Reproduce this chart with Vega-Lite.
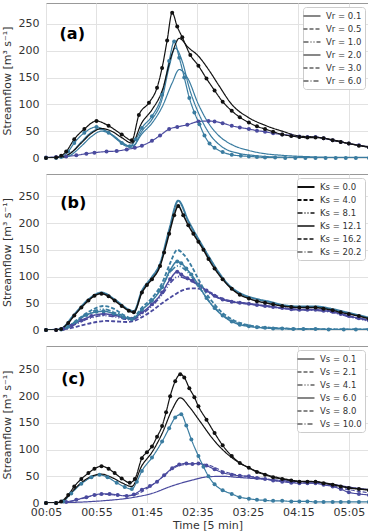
{
"$schema":"https://vega.github.io/schema/vega-lite/v6.json",
"padding":{"left":0,"top":2,"right":0,"bottom":0},
"spacing":16,
"bounds":"flush",
"config":{"font":"DejaVu Sans","view":{"stroke":"#999999"},
"axis":{"gridColor":"#e2e2e2","labelColor":"#333333","titleColor":"#333333","labelFontSize":11,"titleFontSize":11,"titleFontWeight":"normal","domain":false,"ticks":false,"labelOverlap":false},
"legend":{"symbolType":"M-1.7,0H1.7","symbolSize":100,"symbolStrokeColor":"#111111","symbolStrokeWidth":1.5,"labelFontSize":8.5,"labelColor":"#333333","labelOffset":8,"rowPadding":2,"padding":3,"fillColor":"white","strokeColor":"#cccccc","cornerRadius":3,"orient":"top-right","offset":4}},
"datasets":{
"a":[
{"s":"Vr = 2.0","c":"p","t":5,"v":1},{"s":"Vr = 2.0","c":"p","t":15,"v":2},{"s":"Vr = 2.0","c":"p","t":25,"v":3},{"s":"Vr = 2.0","c":"p","t":35,"v":5},{"s":"Vr = 2.0","c":"p","t":45,"v":8},{"s":"Vr = 2.0","c":"p","t":53,"v":10},{"s":"Vr = 2.0","c":"p","t":65,"v":12},{"s":"Vr = 2.0","c":"p","t":75,"v":13},{"s":"Vr = 2.0","c":"p","t":85,"v":16},{"s":"Vr = 2.0","c":"p","t":93,"v":19},{"s":"Vr = 2.0","c":"p","t":100,"v":23},{"s":"Vr = 2.0","c":"p","t":110,"v":32},{"s":"Vr = 2.0","c":"p","t":118,"v":42},{"s":"Vr = 2.0","c":"p","t":127,"v":54},{"s":"Vr = 2.0","c":"p","t":135,"v":58},{"s":"Vr = 2.0","c":"p","t":145,"v":62},{"s":"Vr = 2.0","c":"p","t":156,"v":68},{"s":"Vr = 2.0","c":"p","t":166,"v":69},{"s":"Vr = 2.0","c":"p","t":172,"v":68},{"s":"Vr = 2.0","c":"p","t":180,"v":65},{"s":"Vr = 2.0","c":"p","t":189,"v":60},{"s":"Vr = 2.0","c":"p","t":197,"v":57},{"s":"Vr = 2.0","c":"p","t":206,"v":54},{"s":"Vr = 2.0","c":"p","t":214,"v":51},{"s":"Vr = 2.0","c":"p","t":222,"v":49},{"s":"Vr = 2.0","c":"p","t":230,"v":46},{"s":"Vr = 2.0","c":"p","t":239,"v":44},{"s":"Vr = 2.0","c":"p","t":248,"v":42},{"s":"Vr = 2.0","c":"p","t":256,"v":40},{"s":"Vr = 2.0","c":"p","t":264,"v":39},{"s":"Vr = 2.0","c":"p","t":272,"v":39},{"s":"Vr = 2.0","c":"p","t":280,"v":37},{"s":"Vr = 2.0","c":"p","t":289,"v":33},{"s":"Vr = 2.0","c":"p","t":297,"v":30},{"s":"Vr = 2.0","c":"p","t":305,"v":27},{"s":"Vr = 2.0","c":"p","t":315,"v":24},{"s":"Vr = 2.0","c":"p","t":325,"v":20},
{"s":"Vr = 0.1","c":"t","t":5,"v":0},{"s":"Vr = 0.1","c":"t","t":20,"v":0},{"s":"Vr = 0.1","c":"t","t":30,"v":6},{"s":"Vr = 0.1","c":"t","t":40,"v":22},{"s":"Vr = 0.1","c":"t","t":50,"v":40},{"s":"Vr = 0.1","c":"t","t":60,"v":50},{"s":"Vr = 0.1","c":"t","t":70,"v":44},{"s":"Vr = 0.1","c":"t","t":80,"v":30},{"s":"Vr = 0.1","c":"t","t":90,"v":20},{"s":"Vr = 0.1","c":"t","t":100,"v":45},{"s":"Vr = 0.1","c":"t","t":110,"v":65},{"s":"Vr = 0.1","c":"t","t":120,"v":95},{"s":"Vr = 0.1","c":"t","t":130,"v":140},{"s":"Vr = 0.1","c":"t","t":137,"v":165},{"s":"Vr = 0.1","c":"t","t":145,"v":150},{"s":"Vr = 0.1","c":"t","t":156,"v":100},{"s":"Vr = 0.1","c":"t","t":166,"v":65},{"s":"Vr = 0.1","c":"t","t":176,"v":42},{"s":"Vr = 0.1","c":"t","t":189,"v":25},{"s":"Vr = 0.1","c":"t","t":206,"v":14},{"s":"Vr = 0.1","c":"t","t":222,"v":8},{"s":"Vr = 0.1","c":"t","t":239,"v":5},{"s":"Vr = 0.1","c":"t","t":272,"v":2},{"s":"Vr = 0.1","c":"t","t":300,"v":1},{"s":"Vr = 0.1","c":"t","t":325,"v":1},
{"s":"Vr = 0.1","c":"t","g":2,"t":5,"v":0},{"s":"Vr = 0.1","c":"t","g":2,"t":20,"v":1},{"s":"Vr = 0.1","c":"t","g":2,"t":30,"v":10},{"s":"Vr = 0.1","c":"t","g":2,"t":40,"v":30},{"s":"Vr = 0.1","c":"t","g":2,"t":50,"v":48},{"s":"Vr = 0.1","c":"t","g":2,"t":57,"v":54},{"s":"Vr = 0.1","c":"t","g":2,"t":65,"v":50},{"s":"Vr = 0.1","c":"t","g":2,"t":75,"v":36},{"s":"Vr = 0.1","c":"t","g":2,"t":85,"v":22},{"s":"Vr = 0.1","c":"t","g":2,"t":92,"v":24},{"s":"Vr = 0.1","c":"t","g":2,"t":100,"v":50},{"s":"Vr = 0.1","c":"t","g":2,"t":110,"v":72},{"s":"Vr = 0.1","c":"t","g":2,"t":120,"v":110},{"s":"Vr = 0.1","c":"t","g":2,"t":127,"v":170},{"s":"Vr = 0.1","c":"t","g":2,"t":133,"v":205},{"s":"Vr = 0.1","c":"t","g":2,"t":140,"v":180},{"s":"Vr = 0.1","c":"t","g":2,"t":147,"v":130},{"s":"Vr = 0.1","c":"t","g":2,"t":157,"v":80},{"s":"Vr = 0.1","c":"t","g":2,"t":167,"v":45},{"s":"Vr = 0.1","c":"t","g":2,"t":180,"v":20},{"s":"Vr = 0.1","c":"t","g":2,"t":195,"v":9},{"s":"Vr = 0.1","c":"t","g":2,"t":210,"v":5},{"s":"Vr = 0.1","c":"t","g":2,"t":230,"v":2},{"s":"Vr = 0.1","c":"t","g":2,"t":260,"v":1},{"s":"Vr = 0.1","c":"t","g":2,"t":325,"v":0},
{"s":"Vr = 2.0","c":"t","t":5,"v":0},{"s":"Vr = 2.0","c":"t","t":15,"v":0},{"s":"Vr = 2.0","c":"t","t":20,"v":2},{"s":"Vr = 2.0","c":"t","t":27,"v":12},{"s":"Vr = 2.0","c":"t","t":33,"v":28},{"s":"Vr = 2.0","c":"t","t":43,"v":47},{"s":"Vr = 2.0","c":"t","t":55,"v":58},{"s":"Vr = 2.0","c":"t","t":67,"v":47},{"s":"Vr = 2.0","c":"t","t":80,"v":28},{"s":"Vr = 2.0","c":"t","t":88,"v":22},{"s":"Vr = 2.0","c":"t","t":94,"v":35},{"s":"Vr = 2.0","c":"t","t":100,"v":56},{"s":"Vr = 2.0","c":"t","t":110,"v":78},{"s":"Vr = 2.0","c":"t","t":120,"v":118},{"s":"Vr = 2.0","c":"t","t":127,"v":181},{"s":"Vr = 2.0","c":"t","t":132,"v":217},{"s":"Vr = 2.0","c":"t","t":137,"v":187},{"s":"Vr = 2.0","c":"t","t":142,"v":150},{"s":"Vr = 2.0","c":"t","t":147,"v":112},{"s":"Vr = 2.0","c":"t","t":152,"v":85},{"s":"Vr = 2.0","c":"t","t":157,"v":63},{"s":"Vr = 2.0","c":"t","t":162,"v":42},{"s":"Vr = 2.0","c":"t","t":167,"v":27},{"s":"Vr = 2.0","c":"t","t":172,"v":19},{"s":"Vr = 2.0","c":"t","t":180,"v":11},{"s":"Vr = 2.0","c":"t","t":189,"v":6},{"s":"Vr = 2.0","c":"t","t":198,"v":4},{"s":"Vr = 2.0","c":"t","t":206,"v":3},{"s":"Vr = 2.0","c":"t","t":214,"v":2},{"s":"Vr = 2.0","c":"t","t":222,"v":1},{"s":"Vr = 2.0","c":"t","t":232,"v":1},{"s":"Vr = 2.0","c":"t","t":242,"v":0},{"s":"Vr = 2.0","c":"t","t":252,"v":0},{"s":"Vr = 2.0","c":"t","t":262,"v":0},{"s":"Vr = 2.0","c":"t","t":272,"v":0},{"s":"Vr = 2.0","c":"t","t":282,"v":0},{"s":"Vr = 2.0","c":"t","t":292,"v":0},{"s":"Vr = 2.0","c":"t","t":302,"v":0},{"s":"Vr = 2.0","c":"t","t":312,"v":0},{"s":"Vr = 2.0","c":"t","t":325,"v":0},
{"s":"Vr = 0.1","c":"k","t":5,"v":0},{"s":"Vr = 0.1","c":"k","t":15,"v":0},{"s":"Vr = 0.1","c":"k","t":22,"v":2},{"s":"Vr = 0.1","c":"k","t":30,"v":10},{"s":"Vr = 0.1","c":"k","t":40,"v":28},{"s":"Vr = 0.1","c":"k","t":50,"v":46},{"s":"Vr = 0.1","c":"k","t":60,"v":55},{"s":"Vr = 0.1","c":"k","t":70,"v":50},{"s":"Vr = 0.1","c":"k","t":80,"v":38},{"s":"Vr = 0.1","c":"k","t":90,"v":28},{"s":"Vr = 0.1","c":"k","t":100,"v":66},{"s":"Vr = 0.1","c":"k","t":110,"v":90},{"s":"Vr = 0.1","c":"k","t":120,"v":125},{"s":"Vr = 0.1","c":"k","t":130,"v":195},{"s":"Vr = 0.1","c":"k","t":137,"v":223},{"s":"Vr = 0.1","c":"k","t":146,"v":206},{"s":"Vr = 0.1","c":"k","t":156,"v":190},{"s":"Vr = 0.1","c":"k","t":166,"v":165},{"s":"Vr = 0.1","c":"k","t":176,"v":136},{"s":"Vr = 0.1","c":"k","t":189,"v":100},{"s":"Vr = 0.1","c":"k","t":206,"v":75},{"s":"Vr = 0.1","c":"k","t":222,"v":61},{"s":"Vr = 0.1","c":"k","t":239,"v":50},{"s":"Vr = 0.1","c":"k","t":256,"v":41},{"s":"Vr = 0.1","c":"k","t":272,"v":39},{"s":"Vr = 0.1","c":"k","t":289,"v":34},{"s":"Vr = 0.1","c":"k","t":305,"v":27},{"s":"Vr = 0.1","c":"k","t":325,"v":21},
{"s":"Vr = 2.0","c":"k","t":5,"v":0},{"s":"Vr = 2.0","c":"k","t":15,"v":1},{"s":"Vr = 2.0","c":"k","t":20,"v":4},{"s":"Vr = 2.0","c":"k","t":25,"v":12},{"s":"Vr = 2.0","c":"k","t":33,"v":35},{"s":"Vr = 2.0","c":"k","t":43,"v":54},{"s":"Vr = 2.0","c":"k","t":55,"v":69},{"s":"Vr = 2.0","c":"k","t":67,"v":60},{"s":"Vr = 2.0","c":"k","t":80,"v":44},{"s":"Vr = 2.0","c":"k","t":90,"v":33},{"s":"Vr = 2.0","c":"k","t":97,"v":80},{"s":"Vr = 2.0","c":"k","t":107,"v":103},{"s":"Vr = 2.0","c":"k","t":115,"v":131},{"s":"Vr = 2.0","c":"k","t":120,"v":168},{"s":"Vr = 2.0","c":"k","t":125,"v":219},{"s":"Vr = 2.0","c":"k","t":130,"v":271},{"s":"Vr = 2.0","c":"k","t":135,"v":245},{"s":"Vr = 2.0","c":"k","t":140,"v":225},{"s":"Vr = 2.0","c":"k","t":148,"v":192},{"s":"Vr = 2.0","c":"k","t":156,"v":172},{"s":"Vr = 2.0","c":"k","t":164,"v":148},{"s":"Vr = 2.0","c":"k","t":172,"v":126},{"s":"Vr = 2.0","c":"k","t":180,"v":105},{"s":"Vr = 2.0","c":"k","t":189,"v":88},{"s":"Vr = 2.0","c":"k","t":197,"v":76},{"s":"Vr = 2.0","c":"k","t":206,"v":66},{"s":"Vr = 2.0","c":"k","t":214,"v":59},{"s":"Vr = 2.0","c":"k","t":222,"v":54},{"s":"Vr = 2.0","c":"k","t":230,"v":49},{"s":"Vr = 2.0","c":"k","t":239,"v":44},{"s":"Vr = 2.0","c":"k","t":248,"v":41},{"s":"Vr = 2.0","c":"k","t":256,"v":39},{"s":"Vr = 2.0","c":"k","t":264,"v":38},{"s":"Vr = 2.0","c":"k","t":272,"v":38},{"s":"Vr = 2.0","c":"k","t":280,"v":37},{"s":"Vr = 2.0","c":"k","t":289,"v":33},{"s":"Vr = 2.0","c":"k","t":297,"v":30},{"s":"Vr = 2.0","c":"k","t":305,"v":27},{"s":"Vr = 2.0","c":"k","t":315,"v":23},{"s":"Vr = 2.0","c":"k","t":325,"v":20}
],
"b":[
{"s":"Ks = 12.1","c":"p","t":5,"v":0},{"s":"Ks = 12.1","c":"p","t":15,"v":0},{"s":"Ks = 12.1","c":"p","t":22,"v":2},{"s":"Ks = 12.1","c":"p","t":30,"v":8},{"s":"Ks = 12.1","c":"p","t":40,"v":18},{"s":"Ks = 12.1","c":"p","t":50,"v":26},{"s":"Ks = 12.1","c":"p","t":62,"v":30},{"s":"Ks = 12.1","c":"p","t":72,"v":28},{"s":"Ks = 12.1","c":"p","t":82,"v":23},{"s":"Ks = 12.1","c":"p","t":90,"v":21},{"s":"Ks = 12.1","c":"p","t":100,"v":33},{"s":"Ks = 12.1","c":"p","t":110,"v":48},{"s":"Ks = 12.1","c":"p","t":120,"v":70},{"s":"Ks = 12.1","c":"p","t":128,"v":95},{"s":"Ks = 12.1","c":"p","t":135,"v":109},{"s":"Ks = 12.1","c":"p","t":139,"v":104},{"s":"Ks = 12.1","c":"p","t":145,"v":97},{"s":"Ks = 12.1","c":"p","t":150,"v":92},{"s":"Ks = 12.1","c":"p","t":156,"v":85},{"s":"Ks = 12.1","c":"p","t":164,"v":74},{"s":"Ks = 12.1","c":"p","t":172,"v":64},{"s":"Ks = 12.1","c":"p","t":180,"v":57},{"s":"Ks = 12.1","c":"p","t":189,"v":53},{"s":"Ks = 12.1","c":"p","t":197,"v":51},{"s":"Ks = 12.1","c":"p","t":206,"v":49},{"s":"Ks = 12.1","c":"p","t":214,"v":47},{"s":"Ks = 12.1","c":"p","t":222,"v":45},{"s":"Ks = 12.1","c":"p","t":230,"v":43},{"s":"Ks = 12.1","c":"p","t":239,"v":41},{"s":"Ks = 12.1","c":"p","t":248,"v":39},{"s":"Ks = 12.1","c":"p","t":256,"v":38},{"s":"Ks = 12.1","c":"p","t":264,"v":38},{"s":"Ks = 12.1","c":"p","t":272,"v":38},{"s":"Ks = 12.1","c":"p","t":280,"v":36},{"s":"Ks = 12.1","c":"p","t":289,"v":34},{"s":"Ks = 12.1","c":"p","t":297,"v":30},{"s":"Ks = 12.1","c":"p","t":305,"v":26},{"s":"Ks = 12.1","c":"p","t":315,"v":22},{"s":"Ks = 12.1","c":"p","t":325,"v":18},
{"s":"Ks = 8.1","c":"p","t":5,"v":0},{"s":"Ks = 8.1","c":"p","t":20,"v":1},{"s":"Ks = 8.1","c":"p","t":30,"v":7},{"s":"Ks = 8.1","c":"p","t":40,"v":16},{"s":"Ks = 8.1","c":"p","t":50,"v":23},{"s":"Ks = 8.1","c":"p","t":62,"v":27},{"s":"Ks = 8.1","c":"p","t":72,"v":25},{"s":"Ks = 8.1","c":"p","t":82,"v":21},{"s":"Ks = 8.1","c":"p","t":90,"v":19},{"s":"Ks = 8.1","c":"p","t":100,"v":30},{"s":"Ks = 8.1","c":"p","t":110,"v":45},{"s":"Ks = 8.1","c":"p","t":120,"v":66},{"s":"Ks = 8.1","c":"p","t":128,"v":88},{"s":"Ks = 8.1","c":"p","t":136,"v":100},{"s":"Ks = 8.1","c":"p","t":145,"v":95},{"s":"Ks = 8.1","c":"p","t":156,"v":84},{"s":"Ks = 8.1","c":"p","t":166,"v":70},{"s":"Ks = 8.1","c":"p","t":176,"v":60},{"s":"Ks = 8.1","c":"p","t":189,"v":54},{"s":"Ks = 8.1","c":"p","t":206,"v":49},{"s":"Ks = 8.1","c":"p","t":222,"v":45},{"s":"Ks = 8.1","c":"p","t":239,"v":41},{"s":"Ks = 8.1","c":"p","t":256,"v":38},{"s":"Ks = 8.1","c":"p","t":272,"v":37},{"s":"Ks = 8.1","c":"p","t":289,"v":33},{"s":"Ks = 8.1","c":"p","t":305,"v":25},{"s":"Ks = 8.1","c":"p","t":325,"v":17},
{"s":"Ks = 4.0","c":"p","t":5,"v":0},{"s":"Ks = 4.0","c":"p","t":25,"v":2},{"s":"Ks = 4.0","c":"p","t":35,"v":6},{"s":"Ks = 4.0","c":"p","t":45,"v":11},{"s":"Ks = 4.0","c":"p","t":55,"v":15},{"s":"Ks = 4.0","c":"p","t":65,"v":17},{"s":"Ks = 4.0","c":"p","t":75,"v":16},{"s":"Ks = 4.0","c":"p","t":85,"v":15},{"s":"Ks = 4.0","c":"p","t":92,"v":17},{"s":"Ks = 4.0","c":"p","t":100,"v":24},{"s":"Ks = 4.0","c":"p","t":110,"v":36},{"s":"Ks = 4.0","c":"p","t":120,"v":50},{"s":"Ks = 4.0","c":"p","t":130,"v":63},{"s":"Ks = 4.0","c":"p","t":140,"v":74},{"s":"Ks = 4.0","c":"p","t":150,"v":78},{"s":"Ks = 4.0","c":"p","t":160,"v":77},{"s":"Ks = 4.0","c":"p","t":168,"v":70},{"s":"Ks = 4.0","c":"p","t":178,"v":60},{"s":"Ks = 4.0","c":"p","t":189,"v":53},{"s":"Ks = 4.0","c":"p","t":206,"v":49},{"s":"Ks = 4.0","c":"p","t":222,"v":45},{"s":"Ks = 4.0","c":"p","t":239,"v":41},{"s":"Ks = 4.0","c":"p","t":256,"v":38},{"s":"Ks = 4.0","c":"p","t":272,"v":38},{"s":"Ks = 4.0","c":"p","t":289,"v":34},{"s":"Ks = 4.0","c":"p","t":305,"v":26},{"s":"Ks = 4.0","c":"p","t":325,"v":18},
{"s":"Ks = 12.1","c":"t","t":5,"v":0},{"s":"Ks = 12.1","c":"t","t":20,"v":1},{"s":"Ks = 12.1","c":"t","t":27,"v":6},{"s":"Ks = 12.1","c":"t","t":35,"v":16},{"s":"Ks = 12.1","c":"t","t":45,"v":28},{"s":"Ks = 12.1","c":"t","t":55,"v":34},{"s":"Ks = 12.1","c":"t","t":62,"v":35},{"s":"Ks = 12.1","c":"t","t":72,"v":31},{"s":"Ks = 12.1","c":"t","t":82,"v":24},{"s":"Ks = 12.1","c":"t","t":90,"v":20},{"s":"Ks = 12.1","c":"t","t":100,"v":38},{"s":"Ks = 12.1","c":"t","t":110,"v":55},{"s":"Ks = 12.1","c":"t","t":120,"v":80},{"s":"Ks = 12.1","c":"t","t":128,"v":112},{"s":"Ks = 12.1","c":"t","t":135,"v":128},{"s":"Ks = 12.1","c":"t","t":139,"v":125},{"s":"Ks = 12.1","c":"t","t":144,"v":115},{"s":"Ks = 12.1","c":"t","t":149,"v":104},{"s":"Ks = 12.1","c":"t","t":156,"v":84},{"s":"Ks = 12.1","c":"t","t":164,"v":60},{"s":"Ks = 12.1","c":"t","t":172,"v":41},{"s":"Ks = 12.1","c":"t","t":180,"v":27},{"s":"Ks = 12.1","c":"t","t":189,"v":16},{"s":"Ks = 12.1","c":"t","t":197,"v":10},{"s":"Ks = 12.1","c":"t","t":206,"v":7},{"s":"Ks = 12.1","c":"t","t":214,"v":5},{"s":"Ks = 12.1","c":"t","t":222,"v":4},{"s":"Ks = 12.1","c":"t","t":230,"v":3},{"s":"Ks = 12.1","c":"t","t":239,"v":3},{"s":"Ks = 12.1","c":"t","t":250,"v":2},{"s":"Ks = 12.1","c":"t","t":260,"v":2},{"s":"Ks = 12.1","c":"t","t":272,"v":2},{"s":"Ks = 12.1","c":"t","t":285,"v":1},{"s":"Ks = 12.1","c":"t","t":300,"v":1},{"s":"Ks = 12.1","c":"t","t":312,"v":1},{"s":"Ks = 12.1","c":"t","t":325,"v":1},
{"s":"Ks = 8.1","c":"t","t":5,"v":0},{"s":"Ks = 8.1","c":"t","t":20,"v":1},{"s":"Ks = 8.1","c":"t","t":30,"v":10},{"s":"Ks = 8.1","c":"t","t":40,"v":24},{"s":"Ks = 8.1","c":"t","t":50,"v":34},{"s":"Ks = 8.1","c":"t","t":62,"v":39},{"s":"Ks = 8.1","c":"t","t":72,"v":34},{"s":"Ks = 8.1","c":"t","t":82,"v":26},{"s":"Ks = 8.1","c":"t","t":90,"v":21},{"s":"Ks = 8.1","c":"t","t":100,"v":38},{"s":"Ks = 8.1","c":"t","t":110,"v":56},{"s":"Ks = 8.1","c":"t","t":120,"v":82},{"s":"Ks = 8.1","c":"t","t":128,"v":108},{"s":"Ks = 8.1","c":"t","t":136,"v":120},{"s":"Ks = 8.1","c":"t","t":142,"v":114},{"s":"Ks = 8.1","c":"t","t":149,"v":100},{"s":"Ks = 8.1","c":"t","t":156,"v":82},{"s":"Ks = 8.1","c":"t","t":164,"v":60},{"s":"Ks = 8.1","c":"t","t":172,"v":42},{"s":"Ks = 8.1","c":"t","t":180,"v":28},{"s":"Ks = 8.1","c":"t","t":189,"v":17},{"s":"Ks = 8.1","c":"t","t":206,"v":8},{"s":"Ks = 8.1","c":"t","t":222,"v":4},{"s":"Ks = 8.1","c":"t","t":250,"v":2},{"s":"Ks = 8.1","c":"t","t":325,"v":1},
{"s":"Ks = 4.0","c":"t","t":5,"v":0},{"s":"Ks = 4.0","c":"t","t":20,"v":1},{"s":"Ks = 4.0","c":"t","t":30,"v":10},{"s":"Ks = 4.0","c":"t","t":40,"v":25},{"s":"Ks = 4.0","c":"t","t":50,"v":37},{"s":"Ks = 4.0","c":"t","t":62,"v":45},{"s":"Ks = 4.0","c":"t","t":72,"v":40},{"s":"Ks = 4.0","c":"t","t":82,"v":28},{"s":"Ks = 4.0","c":"t","t":90,"v":22},{"s":"Ks = 4.0","c":"t","t":100,"v":42},{"s":"Ks = 4.0","c":"t","t":110,"v":60},{"s":"Ks = 4.0","c":"t","t":120,"v":88},{"s":"Ks = 4.0","c":"t","t":128,"v":125},{"s":"Ks = 4.0","c":"t","t":135,"v":150},{"s":"Ks = 4.0","c":"t","t":142,"v":140},{"s":"Ks = 4.0","c":"t","t":149,"v":120},{"s":"Ks = 4.0","c":"t","t":156,"v":95},{"s":"Ks = 4.0","c":"t","t":164,"v":68},{"s":"Ks = 4.0","c":"t","t":172,"v":48},{"s":"Ks = 4.0","c":"t","t":180,"v":32},{"s":"Ks = 4.0","c":"t","t":189,"v":20},{"s":"Ks = 4.0","c":"t","t":206,"v":9},{"s":"Ks = 4.0","c":"t","t":222,"v":5},{"s":"Ks = 4.0","c":"t","t":260,"v":2},{"s":"Ks = 4.0","c":"t","t":325,"v":1},
{"s":"Ks = 0.0","c":"t","t":5,"v":0},{"s":"Ks = 0.0","c":"t","t":15,"v":0},{"s":"Ks = 0.0","c":"t","t":20,"v":2},{"s":"Ks = 0.0","c":"t","t":33,"v":29},{"s":"Ks = 0.0","c":"t","t":47,"v":57},{"s":"Ks = 0.0","c":"t","t":60,"v":70},{"s":"Ks = 0.0","c":"t","t":73,"v":57},{"s":"Ks = 0.0","c":"t","t":87,"v":38},{"s":"Ks = 0.0","c":"t","t":92,"v":35},{"s":"Ks = 0.0","c":"t","t":100,"v":73},{"s":"Ks = 0.0","c":"t","t":110,"v":99},{"s":"Ks = 0.0","c":"t","t":118,"v":124},{"s":"Ks = 0.0","c":"t","t":127,"v":187},{"s":"Ks = 0.0","c":"t","t":136,"v":242},{"s":"Ks = 0.0","c":"t","t":146,"v":204},{"s":"Ks = 0.0","c":"t","t":156,"v":170},{"s":"Ks = 0.0","c":"t","t":166,"v":138},{"s":"Ks = 0.0","c":"t","t":176,"v":108},{"s":"Ks = 0.0","c":"t","t":186,"v":84},{"s":"Ks = 0.0","c":"t","t":196,"v":70},{"s":"Ks = 0.0","c":"t","t":206,"v":62},{"s":"Ks = 0.0","c":"t","t":216,"v":57},{"s":"Ks = 0.0","c":"t","t":226,"v":53},{"s":"Ks = 0.0","c":"t","t":239,"v":47},{"s":"Ks = 0.0","c":"t","t":256,"v":44},{"s":"Ks = 0.0","c":"t","t":272,"v":44},{"s":"Ks = 0.0","c":"t","t":289,"v":39},{"s":"Ks = 0.0","c":"t","t":305,"v":32},{"s":"Ks = 0.0","c":"t","t":325,"v":23},
{"s":"Ks = 12.1","c":"k","t":5,"v":0},{"s":"Ks = 12.1","c":"k","t":15,"v":0},{"s":"Ks = 12.1","c":"k","t":20,"v":2},{"s":"Ks = 12.1","c":"k","t":27,"v":13},{"s":"Ks = 12.1","c":"k","t":33,"v":27},{"s":"Ks = 12.1","c":"k","t":40,"v":42},{"s":"Ks = 12.1","c":"k","t":47,"v":55},{"s":"Ks = 12.1","c":"k","t":53,"v":64},{"s":"Ks = 12.1","c":"k","t":60,"v":68},{"s":"Ks = 12.1","c":"k","t":67,"v":63},{"s":"Ks = 12.1","c":"k","t":73,"v":55},{"s":"Ks = 12.1","c":"k","t":80,"v":45},{"s":"Ks = 12.1","c":"k","t":87,"v":36},{"s":"Ks = 12.1","c":"k","t":92,"v":33},{"s":"Ks = 12.1","c":"k","t":100,"v":70},{"s":"Ks = 12.1","c":"k","t":105,"v":84},{"s":"Ks = 12.1","c":"k","t":110,"v":95},{"s":"Ks = 12.1","c":"k","t":118,"v":120},{"s":"Ks = 12.1","c":"k","t":122,"v":145},{"s":"Ks = 12.1","c":"k","t":127,"v":180},{"s":"Ks = 12.1","c":"k","t":132,"v":215},{"s":"Ks = 12.1","c":"k","t":136,"v":232},{"s":"Ks = 12.1","c":"k","t":141,"v":215},{"s":"Ks = 12.1","c":"k","t":146,"v":196},{"s":"Ks = 12.1","c":"k","t":151,"v":180},{"s":"Ks = 12.1","c":"k","t":156,"v":165},{"s":"Ks = 12.1","c":"k","t":161,"v":150},{"s":"Ks = 12.1","c":"k","t":166,"v":133},{"s":"Ks = 12.1","c":"k","t":172,"v":115},{"s":"Ks = 12.1","c":"k","t":180,"v":95},{"s":"Ks = 12.1","c":"k","t":189,"v":77},{"s":"Ks = 12.1","c":"k","t":197,"v":66},{"s":"Ks = 12.1","c":"k","t":206,"v":59},{"s":"Ks = 12.1","c":"k","t":214,"v":54},{"s":"Ks = 12.1","c":"k","t":222,"v":51},{"s":"Ks = 12.1","c":"k","t":230,"v":48},{"s":"Ks = 12.1","c":"k","t":239,"v":45},{"s":"Ks = 12.1","c":"k","t":248,"v":43},{"s":"Ks = 12.1","c":"k","t":256,"v":42},{"s":"Ks = 12.1","c":"k","t":264,"v":42},{"s":"Ks = 12.1","c":"k","t":272,"v":42},{"s":"Ks = 12.1","c":"k","t":280,"v":40},{"s":"Ks = 12.1","c":"k","t":289,"v":37},{"s":"Ks = 12.1","c":"k","t":297,"v":33},{"s":"Ks = 12.1","c":"k","t":305,"v":30},{"s":"Ks = 12.1","c":"k","t":315,"v":26},{"s":"Ks = 12.1","c":"k","t":325,"v":21}
],
"c":[
{"s":"Vs = 0.1","c":"p","t":5,"v":0},{"s":"Vs = 0.1","c":"p","t":30,"v":1},{"s":"Vs = 0.1","c":"p","t":60,"v":4},{"s":"Vs = 0.1","c":"p","t":90,"v":10},{"s":"Vs = 0.1","c":"p","t":110,"v":18},{"s":"Vs = 0.1","c":"p","t":130,"v":32},{"s":"Vs = 0.1","c":"p","t":150,"v":43},{"s":"Vs = 0.1","c":"p","t":165,"v":49},{"s":"Vs = 0.1","c":"p","t":180,"v":50},{"s":"Vs = 0.1","c":"p","t":195,"v":48},{"s":"Vs = 0.1","c":"p","t":210,"v":46},{"s":"Vs = 0.1","c":"p","t":225,"v":44},{"s":"Vs = 0.1","c":"p","t":240,"v":42},{"s":"Vs = 0.1","c":"p","t":256,"v":40},{"s":"Vs = 0.1","c":"p","t":272,"v":39},{"s":"Vs = 0.1","c":"p","t":289,"v":35},{"s":"Vs = 0.1","c":"p","t":305,"v":30},{"s":"Vs = 0.1","c":"p","t":325,"v":25},
{"s":"Vs = 2.1","c":"p","t":5,"v":0},{"s":"Vs = 2.1","c":"p","t":25,"v":2},{"s":"Vs = 2.1","c":"p","t":40,"v":8},{"s":"Vs = 2.1","c":"p","t":55,"v":15},{"s":"Vs = 2.1","c":"p","t":65,"v":16},{"s":"Vs = 2.1","c":"p","t":80,"v":14},{"s":"Vs = 2.1","c":"p","t":92,"v":15},{"s":"Vs = 2.1","c":"p","t":105,"v":27},{"s":"Vs = 2.1","c":"p","t":120,"v":48},{"s":"Vs = 2.1","c":"p","t":132,"v":66},{"s":"Vs = 2.1","c":"p","t":142,"v":72},{"s":"Vs = 2.1","c":"p","t":156,"v":74},{"s":"Vs = 2.1","c":"p","t":166,"v":71},{"s":"Vs = 2.1","c":"p","t":180,"v":60},{"s":"Vs = 2.1","c":"p","t":195,"v":52},{"s":"Vs = 2.1","c":"p","t":210,"v":49},{"s":"Vs = 2.1","c":"p","t":230,"v":43},{"s":"Vs = 2.1","c":"p","t":256,"v":38},{"s":"Vs = 2.1","c":"p","t":272,"v":37},{"s":"Vs = 2.1","c":"p","t":289,"v":32},{"s":"Vs = 2.1","c":"p","t":305,"v":25},{"s":"Vs = 2.1","c":"p","t":325,"v":19},
{"s":"Vs = 6.0","c":"p","t":5,"v":0},{"s":"Vs = 6.0","c":"p","t":15,"v":0},{"s":"Vs = 6.0","c":"p","t":25,"v":2},{"s":"Vs = 6.0","c":"p","t":35,"v":6},{"s":"Vs = 6.0","c":"p","t":45,"v":11},{"s":"Vs = 6.0","c":"p","t":53,"v":15},{"s":"Vs = 6.0","c":"p","t":60,"v":17},{"s":"Vs = 6.0","c":"p","t":68,"v":17},{"s":"Vs = 6.0","c":"p","t":76,"v":15},{"s":"Vs = 6.0","c":"p","t":85,"v":13},{"s":"Vs = 6.0","c":"p","t":92,"v":16},{"s":"Vs = 6.0","c":"p","t":100,"v":25},{"s":"Vs = 6.0","c":"p","t":108,"v":32},{"s":"Vs = 6.0","c":"p","t":115,"v":40},{"s":"Vs = 6.0","c":"p","t":122,"v":52},{"s":"Vs = 6.0","c":"p","t":130,"v":65},{"s":"Vs = 6.0","c":"p","t":137,"v":72},{"s":"Vs = 6.0","c":"p","t":144,"v":74},{"s":"Vs = 6.0","c":"p","t":150,"v":73},{"s":"Vs = 6.0","c":"p","t":156,"v":74},{"s":"Vs = 6.0","c":"p","t":164,"v":70},{"s":"Vs = 6.0","c":"p","t":172,"v":63},{"s":"Vs = 6.0","c":"p","t":180,"v":57},{"s":"Vs = 6.0","c":"p","t":189,"v":53},{"s":"Vs = 6.0","c":"p","t":197,"v":51},{"s":"Vs = 6.0","c":"p","t":206,"v":50},{"s":"Vs = 6.0","c":"p","t":214,"v":47},{"s":"Vs = 6.0","c":"p","t":222,"v":45},{"s":"Vs = 6.0","c":"p","t":230,"v":42},{"s":"Vs = 6.0","c":"p","t":239,"v":40},{"s":"Vs = 6.0","c":"p","t":248,"v":38},{"s":"Vs = 6.0","c":"p","t":256,"v":37},{"s":"Vs = 6.0","c":"p","t":264,"v":37},{"s":"Vs = 6.0","c":"p","t":272,"v":37},{"s":"Vs = 6.0","c":"p","t":280,"v":34},{"s":"Vs = 6.0","c":"p","t":289,"v":31},{"s":"Vs = 6.0","c":"p","t":297,"v":26},{"s":"Vs = 6.0","c":"p","t":305,"v":20},{"s":"Vs = 6.0","c":"p","t":315,"v":17},{"s":"Vs = 6.0","c":"p","t":325,"v":15},
{"s":"Vs = 6.0","c":"t","t":5,"v":0},{"s":"Vs = 6.0","c":"t","t":15,"v":0},{"s":"Vs = 6.0","c":"t","t":22,"v":3},{"s":"Vs = 6.0","c":"t","t":30,"v":18},{"s":"Vs = 6.0","c":"t","t":40,"v":36},{"s":"Vs = 6.0","c":"t","t":50,"v":48},{"s":"Vs = 6.0","c":"t","t":58,"v":53},{"s":"Vs = 6.0","c":"t","t":66,"v":48},{"s":"Vs = 6.0","c":"t","t":75,"v":38},{"s":"Vs = 6.0","c":"t","t":83,"v":30},{"s":"Vs = 6.0","c":"t","t":90,"v":26},{"s":"Vs = 6.0","c":"t","t":95,"v":40},{"s":"Vs = 6.0","c":"t","t":100,"v":60},{"s":"Vs = 6.0","c":"t","t":110,"v":85},{"s":"Vs = 6.0","c":"t","t":120,"v":115},{"s":"Vs = 6.0","c":"t","t":127,"v":140},{"s":"Vs = 6.0","c":"t","t":133,"v":160},{"s":"Vs = 6.0","c":"t","t":139,"v":166},{"s":"Vs = 6.0","c":"t","t":144,"v":145},{"s":"Vs = 6.0","c":"t","t":149,"v":119},{"s":"Vs = 6.0","c":"t","t":156,"v":88},{"s":"Vs = 6.0","c":"t","t":161,"v":68},{"s":"Vs = 6.0","c":"t","t":166,"v":50},{"s":"Vs = 6.0","c":"t","t":172,"v":35},{"s":"Vs = 6.0","c":"t","t":180,"v":24},{"s":"Vs = 6.0","c":"t","t":189,"v":17},{"s":"Vs = 6.0","c":"t","t":197,"v":11},{"s":"Vs = 6.0","c":"t","t":206,"v":8},{"s":"Vs = 6.0","c":"t","t":214,"v":6},{"s":"Vs = 6.0","c":"t","t":222,"v":5},{"s":"Vs = 6.0","c":"t","t":230,"v":4},{"s":"Vs = 6.0","c":"t","t":239,"v":4},{"s":"Vs = 6.0","c":"t","t":248,"v":3},{"s":"Vs = 6.0","c":"t","t":256,"v":3},{"s":"Vs = 6.0","c":"t","t":264,"v":3},{"s":"Vs = 6.0","c":"t","t":272,"v":2},{"s":"Vs = 6.0","c":"t","t":280,"v":2},{"s":"Vs = 6.0","c":"t","t":289,"v":2},{"s":"Vs = 6.0","c":"t","t":297,"v":2},{"s":"Vs = 6.0","c":"t","t":305,"v":2},{"s":"Vs = 6.0","c":"t","t":315,"v":2},{"s":"Vs = 6.0","c":"t","t":325,"v":2},
{"s":"Vs = 0.1","c":"k","t":5,"v":0},{"s":"Vs = 0.1","c":"k","t":20,"v":2},{"s":"Vs = 0.1","c":"k","t":30,"v":20},{"s":"Vs = 0.1","c":"k","t":40,"v":38},{"s":"Vs = 0.1","c":"k","t":50,"v":50},{"s":"Vs = 0.1","c":"k","t":60,"v":54},{"s":"Vs = 0.1","c":"k","t":70,"v":48},{"s":"Vs = 0.1","c":"k","t":80,"v":38},{"s":"Vs = 0.1","c":"k","t":90,"v":31},{"s":"Vs = 0.1","c":"k","t":100,"v":70},{"s":"Vs = 0.1","c":"k","t":110,"v":95},{"s":"Vs = 0.1","c":"k","t":120,"v":130},{"s":"Vs = 0.1","c":"k","t":130,"v":175},{"s":"Vs = 0.1","c":"k","t":138,"v":197},{"s":"Vs = 0.1","c":"k","t":147,"v":180},{"s":"Vs = 0.1","c":"k","t":156,"v":157},{"s":"Vs = 0.1","c":"k","t":172,"v":116},{"s":"Vs = 0.1","c":"k","t":189,"v":85},{"s":"Vs = 0.1","c":"k","t":206,"v":66},{"s":"Vs = 0.1","c":"k","t":222,"v":54},{"s":"Vs = 0.1","c":"k","t":239,"v":46},{"s":"Vs = 0.1","c":"k","t":256,"v":41},{"s":"Vs = 0.1","c":"k","t":272,"v":40},{"s":"Vs = 0.1","c":"k","t":289,"v":35},{"s":"Vs = 0.1","c":"k","t":305,"v":29},{"s":"Vs = 0.1","c":"k","t":325,"v":25},
{"s":"Vs = 6.0","c":"k","t":5,"v":0},{"s":"Vs = 6.0","c":"k","t":15,"v":0},{"s":"Vs = 6.0","c":"k","t":20,"v":3},{"s":"Vs = 6.0","c":"k","t":27,"v":15},{"s":"Vs = 6.0","c":"k","t":33,"v":31},{"s":"Vs = 6.0","c":"k","t":40,"v":45},{"s":"Vs = 6.0","c":"k","t":47,"v":56},{"s":"Vs = 6.0","c":"k","t":53,"v":64},{"s":"Vs = 6.0","c":"k","t":60,"v":69},{"s":"Vs = 6.0","c":"k","t":67,"v":64},{"s":"Vs = 6.0","c":"k","t":73,"v":56},{"s":"Vs = 6.0","c":"k","t":80,"v":46},{"s":"Vs = 6.0","c":"k","t":88,"v":38},{"s":"Vs = 6.0","c":"k","t":93,"v":45},{"s":"Vs = 6.0","c":"k","t":100,"v":84},{"s":"Vs = 6.0","c":"k","t":105,"v":95},{"s":"Vs = 6.0","c":"k","t":110,"v":106},{"s":"Vs = 6.0","c":"k","t":115,"v":124},{"s":"Vs = 6.0","c":"k","t":120,"v":144},{"s":"Vs = 6.0","c":"k","t":124,"v":170},{"s":"Vs = 6.0","c":"k","t":128,"v":200},{"s":"Vs = 6.0","c":"k","t":133,"v":228},{"s":"Vs = 6.0","c":"k","t":138,"v":241},{"s":"Vs = 6.0","c":"k","t":142,"v":235},{"s":"Vs = 6.0","c":"k","t":147,"v":215},{"s":"Vs = 6.0","c":"k","t":152,"v":198},{"s":"Vs = 6.0","c":"k","t":156,"v":181},{"s":"Vs = 6.0","c":"k","t":164,"v":156},{"s":"Vs = 6.0","c":"k","t":172,"v":131},{"s":"Vs = 6.0","c":"k","t":180,"v":108},{"s":"Vs = 6.0","c":"k","t":189,"v":88},{"s":"Vs = 6.0","c":"k","t":197,"v":75},{"s":"Vs = 6.0","c":"k","t":206,"v":66},{"s":"Vs = 6.0","c":"k","t":214,"v":58},{"s":"Vs = 6.0","c":"k","t":222,"v":53},{"s":"Vs = 6.0","c":"k","t":230,"v":48},{"s":"Vs = 6.0","c":"k","t":239,"v":45},{"s":"Vs = 6.0","c":"k","t":248,"v":42},{"s":"Vs = 6.0","c":"k","t":256,"v":40},{"s":"Vs = 6.0","c":"k","t":264,"v":40},{"s":"Vs = 6.0","c":"k","t":272,"v":40},{"s":"Vs = 6.0","c":"k","t":280,"v":37},{"s":"Vs = 6.0","c":"k","t":289,"v":34},{"s":"Vs = 6.0","c":"k","t":297,"v":31},{"s":"Vs = 6.0","c":"k","t":305,"v":28},{"s":"Vs = 6.0","c":"k","t":315,"v":26},{"s":"Vs = 6.0","c":"k","t":325,"v":24}
]},
"vconcat":[
{"width":323,"height":155,"layer":[
{"encoding":{
"x":{"field":"t","type":"quantitative","scale":{"domain":[5,325],"nice":false,"zero":false},"axis":{"values":[5,55,105,155,205,255,305],"labels":false,"title":null,"grid":true,"labelPadding":0,"minExtent":0,"maxExtent":0}},
"y":{"field":"v","type":"quantitative","scale":{"domain":[0,289],"nice":false},"axis":{"values":[0,50,100,150,200,250],"tickCount":6,"labelOverlap":false,"title":"Streamflow [m³ s⁻¹]","labelPadding":7,"titlePadding":6}}},
"layer":[
{"data":{"name":"a"},"mark":{"type":"line","interpolate":"monotone","clip":true},
"encoding":{
"color":{"field":"c","type":"nominal","scale":{"domain":["k","t","p"],"range":["#111111","#3a7ca0","#4a4a9e"]},"legend":null},
"strokeDash":{"field":"s","type":"nominal","scale":{"domain":["Vr = 0.1","Vr = 0.5","Vr = 1.0","Vr = 2.0","Vr = 3.0","Vr = 6.0"],"range":[[1,0],[4,2],[5,2,1,2,1,2],[1,0],[4,2],[5,2,1,2]]},"legend":{"title":null}},
"strokeWidth":{"field":"s","type":"nominal","scale":{"domain":["Vr = 0.1","Vr = 0.5","Vr = 1.0","Vr = 2.0","Vr = 3.0","Vr = 6.0"],"range":[1.2,1.2,1.2,2.2,2.2,2.2]},"legend":null},
"detail":{"field":"g","type":"nominal"}}},
{"data":{"name":"a"},"transform":[{"filter":{"field":"s","oneOf":["Vr = 2.0","Vr = 3.0","Vr = 6.0"]}}],"mark":{"type":"point","filled":true,"size":16,"opacity":1},
"encoding":{"color":{"field":"c","type":"nominal","legend":null}}}
]},
{"data":{"values":[{"lab":"(a)"}]},"mark":{"type":"text","fontSize":16,"fontWeight":"bold","align":"center","baseline":"middle","color":"#000000"},
"encoding":{
"x":{"datum":31,"type":"quantitative","axis":{"values":[5,55,105,155,205,255,305],"labels":false,"title":null,"grid":true,"labelPadding":0,"minExtent":0,"maxExtent":0}},
"y":{"datum":231,"type":"quantitative","axis":{"values":[0,50,100,150,200,250],"tickCount":6,"labelOverlap":false,"title":"Streamflow [m³ s⁻¹]","labelPadding":7,"titlePadding":6}},
"text":{"field":"lab"}}}
]},
{"width":323,"height":156,"layer":[
{"encoding":{
"x":{"field":"t","type":"quantitative","scale":{"domain":[5,325],"nice":false,"zero":false},"axis":{"values":[5,55,105,155,205,255,305],"labels":false,"title":null,"grid":true,"labelPadding":0,"minExtent":0,"maxExtent":0}},
"y":{"field":"v","type":"quantitative","scale":{"domain":[0,292],"nice":false},"axis":{"values":[0,50,100,150,200,250],"tickCount":6,"labelOverlap":false,"title":"Streamflow [m³ s⁻¹]","labelPadding":7,"titlePadding":6}}},
"layer":[
{"data":{"name":"b"},"mark":{"type":"line","interpolate":"monotone","clip":true},
"encoding":{
"color":{"field":"c","type":"nominal","scale":{"domain":["k","t","p"],"range":["#111111","#3a7ca0","#4a4a9e"]},"legend":null},
"strokeDash":{"field":"s","type":"nominal","scale":{"domain":["Ks = 0.0","Ks = 4.0","Ks = 8.1","Ks = 12.1","Ks = 16.2","Ks = 20.2"],"range":[[1,0],[4,2],[5,2,1,2,1,2],[1,0],[4,2],[5,2,1,2]]},"legend":{"title":null}},
"strokeWidth":{"field":"s","type":"nominal","scale":{"domain":["Ks = 0.0","Ks = 4.0","Ks = 8.1","Ks = 12.1","Ks = 16.2","Ks = 20.2"],"range":[2,1.2,1.2,2.2,2.2,2.2]},"legend":null},
"detail":{"field":"g","type":"nominal"}}},
{"data":{"name":"b"},"transform":[{"filter":{"field":"s","oneOf":["Ks = 12.1","Ks = 16.2","Ks = 20.2"]}}],"mark":{"type":"point","filled":true,"size":16,"opacity":1},
"encoding":{"color":{"field":"c","type":"nominal","legend":null}}}
]},
{"data":{"values":[{"lab":"(b)"}]},"mark":{"type":"text","fontSize":16,"fontWeight":"bold","align":"center","baseline":"middle","color":"#000000"},
"encoding":{
"x":{"datum":32,"type":"quantitative","axis":{"values":[5,55,105,155,205,255,305],"labels":false,"title":null,"grid":true,"labelPadding":0,"minExtent":0,"maxExtent":0}},
"y":{"datum":238,"type":"quantitative","axis":{"values":[0,50,100,150,200,250],"tickCount":6,"labelOverlap":false,"title":"Streamflow [m³ s⁻¹]","labelPadding":7,"titlePadding":6}},
"text":{"field":"lab"}}}
]},
{"width":323,"height":157,"layer":[
{"encoding":{
"x":{"field":"t","type":"quantitative","scale":{"domain":[5,325],"nice":false,"zero":false},"axis":{"values":[5,55,105,155,205,255,305],"labelExpr":"utcFormat(datum.value*60000, '%H:%M')","labelFlush":false,"labelPadding":3,"title":"Time [5 min]","titlePadding":2,"grid":true}},
"y":{"field":"v","type":"quantitative","scale":{"domain":[0,294],"nice":false},"axis":{"values":[0,50,100,150,200,250],"tickCount":6,"labelOverlap":false,"title":"Streamflow [m³ s⁻¹]","labelPadding":7,"titlePadding":6}}},
"layer":[
{"data":{"name":"c"},"mark":{"type":"line","interpolate":"monotone","clip":true},
"encoding":{
"color":{"field":"c","type":"nominal","scale":{"domain":["k","t","p"],"range":["#111111","#3a7ca0","#4a4a9e"]},"legend":null},
"strokeDash":{"field":"s","type":"nominal","scale":{"domain":["Vs = 0.1","Vs = 2.1","Vs = 4.1","Vs = 6.0","Vs = 8.0","Vs = 10.0"],"range":[[1,0],[4,2],[5,2,1,2,1,2],[1,0],[4,2],[5,2,1,2]]},"legend":{"title":null}},
"strokeWidth":{"field":"s","type":"nominal","scale":{"domain":["Vs = 0.1","Vs = 2.1","Vs = 4.1","Vs = 6.0","Vs = 8.0","Vs = 10.0"],"range":[1.2,1.2,1.2,2.2,2.2,2.2]},"legend":null},
"detail":{"field":"g","type":"nominal"}}},
{"data":{"name":"c"},"transform":[{"filter":{"field":"s","oneOf":["Vs = 6.0","Vs = 8.0","Vs = 10.0"]}}],"mark":{"type":"point","filled":true,"size":16,"opacity":1},
"encoding":{"color":{"field":"c","type":"nominal","legend":null}}}
]},
{"data":{"values":[{"lab":"(c)"}]},"mark":{"type":"text","fontSize":16,"fontWeight":"bold","align":"center","baseline":"middle","color":"#000000"},
"encoding":{
"x":{"datum":32,"type":"quantitative","axis":{"values":[5,55,105,155,205,255,305],"labelExpr":"utcFormat(datum.value*60000, '%H:%M')","labelFlush":false,"labelPadding":3,"title":"Time [5 min]","titlePadding":2,"grid":true}},
"y":{"datum":232,"type":"quantitative","axis":{"values":[0,50,100,150,200,250],"tickCount":6,"labelOverlap":false,"title":"Streamflow [m³ s⁻¹]","labelPadding":7,"titlePadding":6}},
"text":{"field":"lab"}}}
]}
],
"resolve":{"scale":{"strokeDash":"independent","strokeWidth":"independent","y":"independent","x":"independent"},"legend":{"strokeDash":"independent"}}
}
